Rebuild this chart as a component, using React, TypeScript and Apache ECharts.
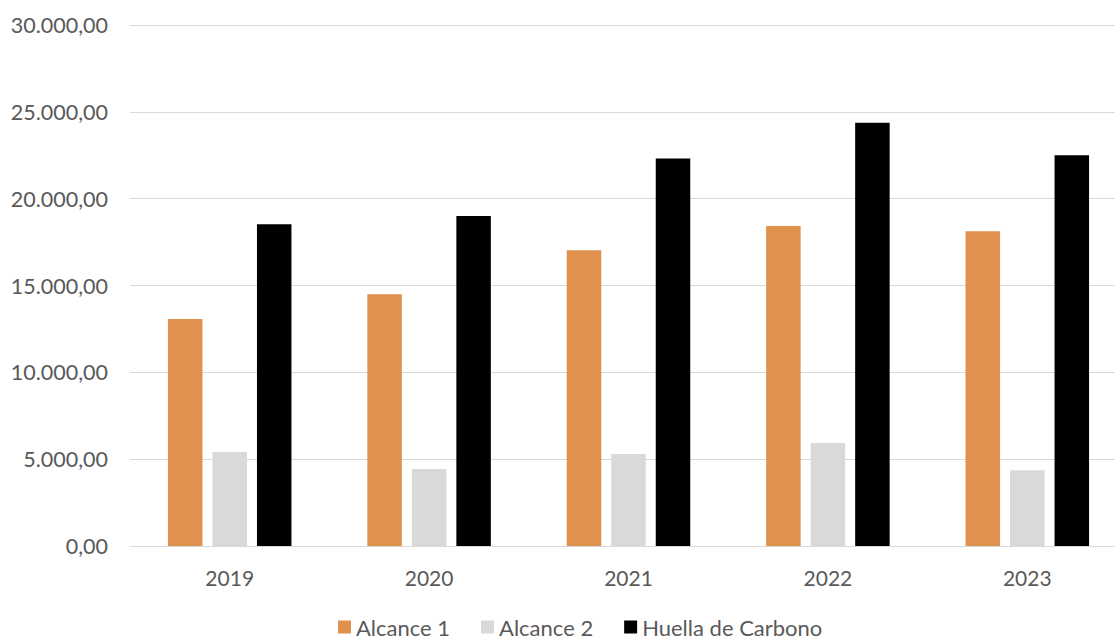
import React, { useEffect, useRef } from "react";
import * as echarts from "echarts";

const categories = ["2019", "2020", "2021", "2022", "2023"];
const alcance1 = [13070, 14490, 17030, 18430, 18120];
const alcance2 = [5410, 4430, 5300, 5930, 4360];
const huella = [18520, 19000, 22320, 24370, 22500];
const seriesNames = ["Alcance 1", "Alcance 2", "Huella de Carbono"];
const seriesColors = ["#E0914D", "#D9D9D9", "#000000"];

const FONT = "Lato, 'Open Sans', sans-serif";
const TEXT = "#595959";

function fmt(v: number): string {
  const intPart = Math.round(v).toString().replace(/\B(?=(\d{3})+(?!\d))/g, ".");
  return intPart + ",00";
}

export default function App() {
  const ref = useRef<HTMLDivElement>(null);
  useEffect(() => {
    if (!ref.current) return;
    const chart = echarts.init(ref.current, undefined, { renderer: "svg" });
    const data = [alcance1, alcance2, huella];
    chart.setOption({
      animation: false,
      backgroundColor: "#ffffff",
      textStyle: { fontFamily: FONT },
      grid: { left: 130, right: 0, top: 25, bottom: 93, containLabel: false },
      legend: {
        left: 333,
        top: 611,
        itemWidth: 13,
        itemHeight: 13,
        itemGap: 31,
        icon: "rect",
        textStyle: { fontFamily: FONT, fontSize: 22, color: TEXT },
        data: seriesNames,
      },
      xAxis: {
        type: "category",
        data: categories,
        axisLine: { show: true, lineStyle: { color: "#D9D9D9", width: 1 } },
        axisTick: { show: false },
        axisLabel: { fontFamily: FONT, fontSize: 21, color: TEXT, margin: 21 },
      },
      yAxis: {
        type: "value",
        min: 0,
        max: 30000,
        interval: 5000,
        axisLine: { show: false },
        axisTick: { show: false },
        splitLine: { lineStyle: { color: "#D9D9D9", width: 1 } },
        axisLabel: {
          fontFamily: FONT,
          fontSize: 21.5,
          color: TEXT,
          margin: 22,
          formatter: (v: number) => fmt(v),
        },
      },
      series: seriesNames.map((name, i) => ({
        name,
        type: "bar",
        data: data[i],
        barWidth: 34.5,
        barGap: "29%",
        itemStyle: { color: seriesColors[i] },
      })),
    });
    return () => chart.dispose();
  }, []);
  return (
    <div
      style={{
        position: "fixed",
        left: 0,
        top: 0,
        width: 1115,
        height: 639,
        overflow: "hidden",
        background: "#fff",
      }}
    >
      <div ref={ref} style={{ width: 1127, height: 639 }} />
    </div>
  );
}
